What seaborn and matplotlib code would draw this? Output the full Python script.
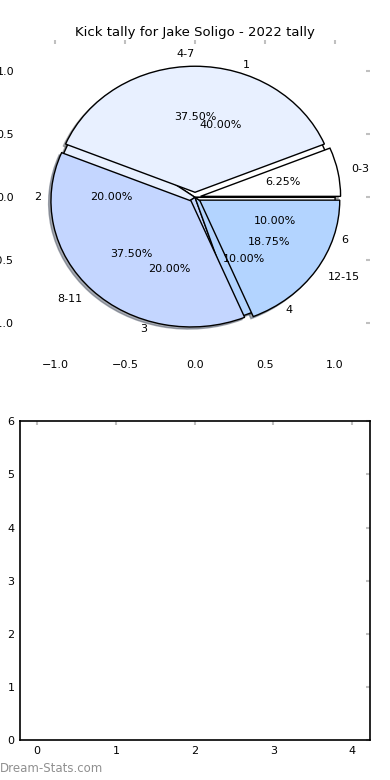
import matplotlib
matplotlib.use("Agg")
import matplotlib.pyplot as plt
import seaborn as sns

TITLE = "Kick tally for Jake Soligo - 2022 tally"

# kicks per game (count -> games) and per range of kicks
count_labels = ["1", "2", "3", "4", "6"]
count_values = [4, 2, 2, 1, 1]

range_labels = ["0-3", "4-7", "8-11", "12-15"]
range_values = [1, 6, 6, 3]

colors = ["#ffffff", "#e8f0ff", "#c4d6ff", "#b3d4ff"]


def style_ticks(ax):
    ax.tick_params(direction="in", length=3, width=1.5, color="#c0c0c0",
                   labelsize=8, labelcolor="black", top=True, right=True,
                   pad=4)


def main() -> None:
    sns.set_theme(style="white")
    plt.rcParams["font.family"] = ["DejaVu Sans"]
    plt.rcParams["text.color"] = "black"

    fig = plt.figure(figsize=(3.9, 7.8), dpi=100)

    shadow = {"ox": -0.012, "oy": -0.012, "shade": 0.6}

    # top: two pies drawn on the same axes
    ax = fig.add_axes([0.051, 0.545, 0.898, 0.404])
    ax.pie(count_values, labels=count_labels, autopct="%.2f%%",
           colors=colors + colors[:1], shadow=shadow,
           wedgeprops={"edgecolor": "black", "linewidth": 1},
           textprops={"fontsize": 8, "color": "black"})
    ax.pie(range_values, labels=range_labels, autopct="%.2f%%",
           colors=colors, shadow=shadow, explode=[0.04, 0.04, 0.04, 0.04],
           wedgeprops={"edgecolor": "black", "linewidth": 1},
           textprops={"fontsize": 8, "color": "black"})
    ax.set_aspect("auto")
    ax.set_xlim(-1.25, 1.25)
    ax.set_ylim(-1.25, 1.25)
    ax.set_xticks([-1.0, -0.5, 0.0, 0.5, 1.0])
    ax.set_yticks([-1.0, -0.5, 0.0, 0.5, 1.0])
    ax.set_xticklabels(["\u22121.0", "\u22120.5", "0.0", "0.5", "1.0"])
    ax.set_yticklabels(["\u22121.0", "\u22120.5", "0.0", "0.5", "1.0"])
    ax.set_frame_on(False)
    style_ticks(ax)
    ax.set_title(TITLE, fontsize=9.5, pad=3, color="black")

    # bottom: empty axes
    ax2 = fig.add_axes([0.051, 0.051, 0.898, 0.409])
    ax2.set_xlim(-0.22, 4.23)
    ax2.set_ylim(0, 6)
    ax2.set_xticks(range(5))
    ax2.set_yticks(range(7))
    for s in ax2.spines.values():
        s.set_color("black")
        s.set_linewidth(1.2)
    style_ticks(ax2)

    fig.text(0.0, 0.006, "Dream-Stats.com", fontsize=8.5, color="#909090",
             ha="left", va="bottom")

    fig.savefig("out.png", dpi=100, facecolor="white")


if __name__ == "__main__":
    main()
